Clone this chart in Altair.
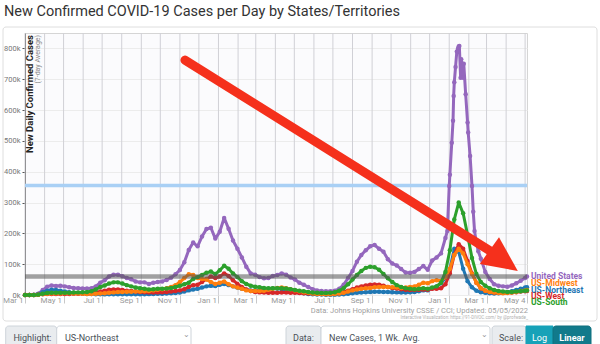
import altair as alt
import pandas as pd

# ---------------- categories ----------------
series_names = ["United States", "US-Midwest", "US-Northeast", "US-West", "US-South"]
series_colors = ["#9467bd", "#ff7f0e", "#1f77b4", "#d62728", "#2ca02c"]
draw_order = ["United States", "US-Northeast", "US-West", "US-Midwest", "US-South"]

week_dates = [d.strftime("%Y-%m-%d") for d in pd.date_range("2020-03-01", "2022-05-01", freq="7D")] + ["2022-05-04"]
grid_months = [d.strftime("%Y-%m-%d") for d in pd.date_range("2020-03-01", "2022-05-01", freq="MS")]
tick_dates = ["2020-03-01", "2020-05-01", "2020-07-01", "2020-09-01", "2020-11-01",
              "2021-01-01", "2021-03-01", "2021-05-01", "2021-07-01", "2021-09-01",
              "2021-11-01", "2022-01-01", "2022-03-01", "2022-05-04"]
y_ticks = [0, 100000, 200000, 300000, 400000, 500000, 600000, 700000, 800000]

# ---------------- series values (thousands, 7-day avg, weekly) ----------------
us_k = [0.05, 0.1, 0.6, 4.5, 16,
        27, 31, 29, 30,
        28, 25, 23, 22, 21,
        21, 22, 28, 40,
        48, 60, 66, 66,
        61, 55, 51, 44, 41,
        41, 36, 40, 42,
        44, 49, 56, 67,
        81, 106, 146, 170, 158,
        190, 214, 218, 183,
        205, 250, 215, 177, 150,
        122, 92, 70, 66,
        58, 54, 55, 62,
        65, 70, 66, 57,
        50, 40, 33, 26, 19,
        15, 13, 12, 12,
        14, 20, 33, 55,
        78, 108, 130, 145, 158,
        162, 150, 140, 116,
        102, 96, 84, 73, 72,
        75, 84, 94, 82,
        112, 122, 135, 185,
        390, 690, 806, 705, 560,
        354, 168, 118, 75,
        52, 35, 30, 28,
        27, 31, 38, 46,
        55, 60]

us_extra_dates = ["2021-12-29", "2022-01-01", "2022-01-05", "2022-01-07", "2022-01-08",
                  "2022-01-11", "2022-01-13", "2022-01-15", "2022-01-17", "2022-01-19",
                  "2022-01-20", "2022-01-22", "2022-01-24", "2022-01-27", "2022-01-31",
                  "2022-02-03", "2022-02-08", "2022-02-10", "2022-02-16"]
us_extra_k = [208, 354, 494, 565, 646,
              740, 790, 800, 808, 705,
              765, 745, 750, 651, 527,
              451, 270, 208, 142]

midwest_k = [0, 0, 0.1, 0.8, 3,
             4, 4.5, 4.5, 5,
             5.5, 5.5, 5, 4.5, 4,
             3.5, 3.5, 4, 5,
             6, 7, 8.5, 9.5,
             10, 10.5, 10.5, 11, 11.5,
             12, 13, 15, 17,
             19, 22, 26, 32,
             42, 55, 67, 65, 55,
             52, 50, 42, 36,
             40, 44, 35, 28, 24,
             20, 15, 13, 13,
             13, 14, 17, 20,
             23, 24, 22, 19,
             15, 12, 9, 7, 5,
             3.5, 3, 2.5, 2.5,
             3, 4.5, 7, 11,
             15, 18, 20, 22, 23,
             25, 26, 26, 26,
             25, 24, 23, 24, 26,
             28, 33, 40, 38,
             45, 48, 46, 58,
             85, 130, 150, 135, 100,
             68, 40, 22, 14,
             10, 8, 6.5, 6,
             6.5, 8, 10, 13,
             15, 16]

northeast_k = [0, 0, 0.2, 3, 9,
               14, 17, 16, 14,
               11, 9, 7, 5.5, 4.5,
               3.5, 3, 2.5, 2.2,
               2, 2.2, 2.5, 2.5,
               2.5, 2.5, 2.4, 2.3, 2.4,
               2.6, 2.8, 3.2, 3.8,
               4.2, 4.8, 5.5, 6.5,
               8, 11, 15, 18, 20,
               24, 28, 30, 29,
               33, 36, 32, 28, 24,
               20, 17, 15, 15,
               16, 17, 19, 21,
               21, 19, 16, 13,
               10, 7.5, 5.5, 3.5, 2.5,
               1.8, 1.3, 1.1, 1.0,
               1.2, 1.6, 2.5, 4,
               5.5, 7, 8, 9, 10,
               10.5, 10.5, 10, 9.5,
               9, 8.5, 8, 8, 9,
               10, 12, 15, 15,
               22, 28, 38, 55,
               85, 150, 140, 85, 45,
               25, 14, 9, 7,
               5.5, 5, 5.5, 7,
               9, 12, 16, 20,
               24, 25]

west_k = [0, 0, 0.1, 0.8, 2.2,
          3, 3.2, 3.2, 3.3,
          3.4, 3.6, 3.8, 4, 4.3,
          5, 6.5, 8.5, 11,
          14, 17, 18, 18,
          16, 14, 13, 11, 10,
          9, 8, 8, 8.5,
          9, 10, 11, 13,
          15, 19, 26, 32, 33,
          42, 52, 60, 55,
          60, 70, 62, 48, 36,
          26, 18, 13, 10,
          8.5, 8, 7.5, 7.5,
          7.5, 7.8, 8, 7.5,
          7, 6.5, 6, 5, 4.5,
          4, 3.5, 3.5, 3.7,
          4.5, 6, 9, 14,
          19, 24, 28, 31, 33,
          34, 33, 30, 26,
          23, 21, 19, 17, 16,
          16, 17, 18, 17,
          20, 20, 22, 35,
          70, 130, 165, 150, 110,
          70, 40, 22, 14,
          10, 8, 7, 7,
          7, 8, 9, 11,
          12, 13]

south_k = [0, 0, 0.2, 1.2, 4,
           6.5, 7.5, 7, 7,
           7.5, 7.5, 8, 8.5, 9,
           10, 12.5, 18, 26,
           31, 37, 41, 41,
           37, 32, 28, 24, 22,
           20, 18, 19, 20,
           20, 21, 23, 26,
           30, 35, 40, 52, 58,
           65, 72, 76, 68,
           80, 95, 85, 70, 58,
           45, 36, 30, 27,
           25, 23, 22, 22,
           22, 22, 21, 19,
           16, 14, 12, 10, 8,
           7, 6.5, 6.5, 7,
           9, 14, 22, 35,
           50, 65, 78, 88, 92,
           90, 82, 68, 54,
           42, 32, 26, 22, 20,
           19, 20, 22, 20,
           24, 28, 40, 75,
           145, 245, 300, 265, 195,
           120, 68, 42, 30,
           22, 16, 13, 11,
           10, 10, 11, 12,
           14, 15]

reference_lines = [355000, 60000]   # light blue line, grey line

# ---------------- build tables ----------------
rows = []
for name, vals in zip(series_names, [us_k, midwest_k, northeast_k, west_k, south_k]):
    for d, v in zip(week_dates, vals):
        rows.append({"series": name, "date": d, "cases": v * 1000})
for d, v in zip(us_extra_dates, us_extra_k):
    rows.append({"series": "United States", "date": d, "cases": v * 1000})
df = pd.DataFrame(rows).sort_values(["series", "date"])


def ms(d):
    return int(pd.Timestamp(d, tz="UTC").value // 10**6)


xscale = alt.Scale(type="utc", domain=[ms("2020-03-01"), ms("2022-05-04")], nice=False)
yscale = alt.Scale(domain=[0, 850000], nice=False)

x_axis = alt.Axis(values=[ms(d) for d in tick_dates],
                  labelExpr="utcFormat(datum.value, '%b %-d')",
                  grid=False, domain=False, ticks=True, tickSize=8, tickColor="#c8c8c8",
                  labelAlign="right", labelBaseline="middle", labelPadding=-3, labelOffset=-2,
                  labelFontSize=8, labelColor="#9a9a9a", labelFont="Roboto",
                  labelOverlap=False, labelFlush=False, title=None)
y_axis = alt.Axis(values=y_ticks, format="~s", grid=True, gridColor="#ececec",
                  domain=True, domainColor="#555", ticks=True, tickSize=3, tickColor="#555",
                  labelFontSize=7.5, labelColor="#777", labelFont="Roboto", labelPadding=2, title=None)

X = alt.X("date:T", scale=xscale, axis=x_axis)
Y = alt.Y("cases:Q", scale=yscale, axis=y_axis)

dummy = alt.Data(values=[{"a": 1}])


def txt(s, x, y, size, color, align="left", weight="normal", angle=None, baseline="middle", font="Roboto"):
    kw = dict(text=s, align=align, baseline=baseline, fontSize=size, color=color,
              fontWeight=weight, font=font)
    if angle is not None:
        kw["angle"] = angle
    return alt.Chart(dummy).mark_text(**kw).encode(x=alt.value(x), y=alt.value(y))


def box(x1, x2, y1, y2, fill, stroke, radius=0, sw=1, fill_opacity=1):
    return alt.Chart(dummy).mark_rect(fill=fill, stroke=stroke, strokeWidth=sw, cornerRadius=radius,
                                      fillOpacity=fill_opacity).encode(
        x=alt.value(x1), x2=alt.value(x2), y=alt.value(y1), y2=alt.value(y2))


layers = []

# card border around the chart
layers.append(box(-22, 572, -6, 288, "#ffffff", "#dedede", 3, 1, 0))

# monthly vertical grid
layers.append(alt.Chart(pd.DataFrame({"date": grid_months})).mark_rule(color="#d0d0d6", strokeWidth=1).encode(x=X))

# light blue reference line
layers.append(alt.Chart(pd.DataFrame({"cases": [reference_lines[0]]})).mark_rule(
    color="#a9d0f5", strokeWidth=3.5).encode(y=Y))

# series
color_of = dict(zip(series_names, series_colors))
for name in draw_order:
    sub = df[df.series == name]
    c = color_of[name]
    base = alt.Chart(sub)
    layers.append(base.mark_line(color=c, strokeWidth=3, strokeJoin="round").encode(x=X, y=Y))
    layers.append(base.mark_circle(color=c, size=20, opacity=1).encode(x=X, y=Y))

# grey reference line on top
layers.append(alt.Chart(pd.DataFrame({"cases": [reference_lines[1]]})).mark_rule(
    color="#555", opacity=0.55, strokeWidth=4.5).encode(y=Y))

# red arrow (in data coordinates)
arrow_red = "#f5301c"
shaft = pd.DataFrame({"date": ["2020-11-09"], "cases": [762000], "date2": ["2022-03-06"], "cases2": [144000]})
layers.append(alt.Chart(shaft).mark_rule(color=arrow_red, strokeWidth=9, strokeCap="round").encode(
    x=X, y=Y, x2=alt.X2("date2:T"), y2=alt.Y2("cases2:Q")))
head = pd.DataFrame({"date": ["2022-03-28"], "cases": [111000]})
layers.append(alt.Chart(head).mark_point(shape="M-1,-0.94L1,0L-1,0.94Z", angle=35.7, size=1225,
                                         filled=True, color=arrow_red, opacity=1, strokeWidth=0).encode(x=X, y=Y))

# y-axis title inside the plot
layers.append(txt("New Daily Confirmed Cases", 5, 2, 9.5, "#222", align="right", weight="bold", angle=270))
layers.append(txt("(7-day Average)", 12.5, 2, 7, "#888", align="right", angle=270))

# end labels
label_y = [243, 250.3, 256.6, 263, 269]
for name, yy in zip(series_names, label_y):
    layers.append(txt(name, 506, yy, 8.5, color_of[name], weight="bold"))

# title
layers.append(txt("New Confirmed COVID-19 Cases per Day by States/Territories", -21, -21.5, 14.5, "#333"))

# footer
layers.append(txt("Data: Johns Hopkins University CSSE / CCI; Updated: 05/05/2022", 503, 278, 7.5, "#a0a0a0", align="right"))
layers.append(txt("Interactive Visualization: https://91-DIVOC.com/ by @profwade_", 503, 284.5, 4.5, "#b0b0b0", align="right"))

# controls
fs = 9
layers.append(box(-19.3, 31.7, 293, 320, "#e9ecef", "#ced4da", 3))
layers.append(box(31.7, 166, 293, 320, "#ffffff", "#ced4da", 3))
layers.append(txt("Highlight:", -11.6, 304.6, fs, "#495057"))
layers.append(txt("US-Northeast", 40, 304.6, fs, "#495057"))
layers.append(txt("\u2304", 161, 302, 8, "#999", align="center"))
layers.append(box(261, 296, 293, 320, "#e9ecef", "#ced4da", 3))
layers.append(box(296, 465, 293, 320, "#ffffff", "#ced4da", 3))
layers.append(txt("Data:", 268, 304.6, fs, "#495057"))
layers.append(txt("New Cases, 1 Wk. Avg.", 304, 304.6, fs, "#495057"))
layers.append(txt("\u2304", 459, 302, 8, "#999", align="center"))
layers.append(box(467, 501, 293, 320, "#e9ecef", "#ced4da", 3))
layers.append(txt("Scale:", 474, 304.6, fs, "#495057"))
layers.append(box(501, 528, 293, 320, "#17a2b8", "#17a2b8", 0))
layers.append(box(528, 566, 293, 320, "#117a8b", "#10707f", 3))
layers.append(txt("Log", 514.5, 304.6, fs, "#ffffff", align="center"))
layers.append(txt("Linear", 547, 304.6, fs, "#ffffff", align="center", weight="bold"))

chart = alt.layer(*layers).properties(
    width=502, height=262,
    padding={"left": 25, "top": 33, "right": 73, "bottom": 49},
    autosize=alt.AutoSizeParams(type="none"),
    background="#ffffff",
).configure_view(stroke="#d5d5d5", fill="#fbfbfd")

chart.save("out.html", embed_options={"renderer": "svg", "actions": False})
